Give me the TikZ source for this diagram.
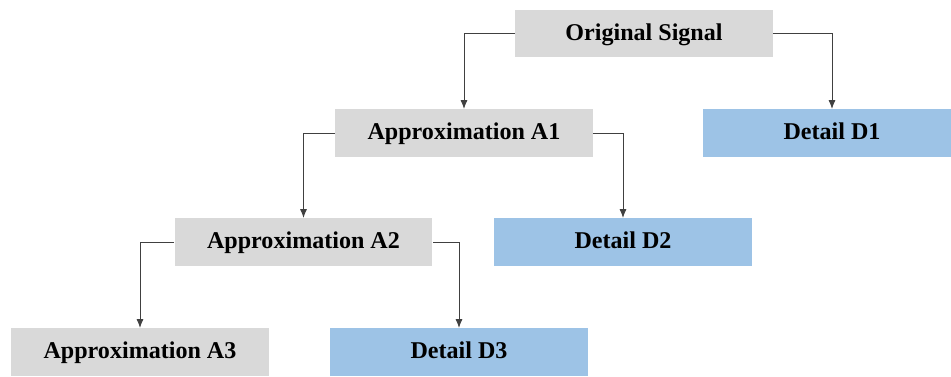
\documentclass[tikz,border=0pt]{standalone}
\usepackage{xcolor}
\usepackage{fontspec}
\setmainfont{Liberation Serif}
\usetikzlibrary{arrows.meta}

\definecolor{approxgrey}{HTML}{D9D9D9}
\definecolor{detailblue}{HTML}{9DC3E6}
\definecolor{linegrey}{HTML}{404040}

\tikzset{
  levelbox/.style={minimum width=5.16cm, minimum height=0.95cm, inner sep=0pt,
    text height=0.78em, text depth=0pt,
    font=\fontsize{13.7}{16}\selectfont\bfseries, text=black},
  approx/.style={levelbox, fill=approxgrey},
  detail/.style={levelbox, fill=detailblue},
  link/.style={draw=linegrey, line width=0.5pt, -{Latex[length=5pt,width=4pt]}}
}

\begin{document}
\begin{tikzpicture}[x=0.02cm, y=-0.02cm]
% Frame
\useasboundingbox (0,0) rectangle (951,376);
\clip (0,0) rectangle (951,376);

% Boxes
\node[approx] (sig) at (644,33.5) {Original Signal};
\node[approx] (a1) at (464,133) {Approximation A1};
\node[detail] (d1) at (832,133) {Detail D1};
\node[approx] (a2) at (303.5,242) {Approximation A2};
\node[detail] (d2) at (623,242) {Detail D2};
\node[approx] (a3) at (140,352) {Approximation A3};
\node[detail] (d3) at (459,352) {Detail D3};

% Connectors
\draw[link] (sig.west) -| (a1.north);
\draw[link] (sig.east) -| (d1.north);
\draw[link] (a1.west) -| (a2.north);
\draw[link] (a1.east) -| (d2.north);
\draw[link] (a2.west) -| (a3.north);
\draw[link] (a2.east) -| (d3.north);
\end{tikzpicture}
\end{document}
